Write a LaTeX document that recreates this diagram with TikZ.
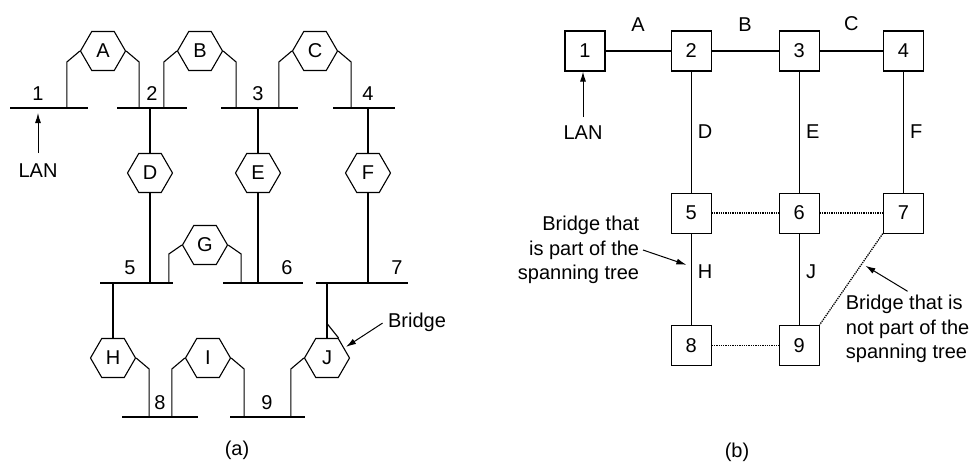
\documentclass[tikz,border=0pt]{standalone}
\usepackage{fontspec}
\setmainfont{Liberation Sans}
\usetikzlibrary{arrows.meta,positioning,shapes.geometric}

\begin{document}
\begin{tikzpicture}[
  x=1pt, y=-1pt,
  font=\fontsize{20}{24.5}\selectfont,
  line width=1.1pt,
  lan/.style={minimum width=#1, minimum height=0pt, inner sep=0pt, outer sep=0pt},
  hexa/.style={draw, regular polygon, regular polygon sides=6, minimum size=45pt, inner sep=0pt},
  lanbox/.style={draw, minimum size=40pt, inner sep=0pt},
  arr/.style={-{Latex[length=10pt,width=6pt]}, line width=1pt},
  spare/.style={densely dotted, line width=1.3pt}
]
\useasboundingbox (0,0) rectangle (976,463);

\node[lan=78pt] (lan1) at (49,108) {};
\node[lan=70pt] (lan2) at (152,108) {};
\node[lan=77pt] (lan3) at (259.5,108) {};
\node[lan=62pt] (lan4) at (364,108) {};
\node[lan=73pt] (lan5) at (136.5,283) {};
\node[lan=80pt] (lan6) at (263,283) {};
\node[lan=92pt] (lan7) at (362,283) {};
\node[lan=76pt] (lan8) at (160,417) {};
\node[lan=75pt] (lan9) at (267.5,417) {};
\draw (lan1.west) -- (lan1.east);
\draw (lan2.west) -- (lan2.east);
\draw (lan3.west) -- (lan3.east);
\draw (lan4.west) -- (lan4.east);
\draw (lan5.west) -- (lan5.east);
\draw (lan6.west) -- (lan6.east);
\draw (lan7.west) -- (lan7.east);
\draw (lan8.west) -- (lan8.east);
\draw (lan9.west) -- (lan9.east);

\node (n1) at (38,94) {1};
\node (n2) at (152,94) {2};
\node (n3) at (258,94) {3};
\node (n4) at (368,94) {4};
\node (n5) at (130,268) {5};
\node (n6) at (287,268) {6};
\node (n7) at (397,268) {7};
\node (n8) at (160,403) {8};
\node (n9) at (267,403) {9};

\node[hexa] (A) at (103,51) {A};
\node[hexa] (B) at (200,51) {B};
\node[hexa] (C) at (315,51) {C};
\node[hexa] (D) at (150,173) {D};
\node[hexa] (E) at (258,173) {E};
\node[hexa] (F) at (368,173) {F};
\node[hexa] (G) at (205,245) {G};
\node[hexa] (H) at (113,358) {H};
\node[hexa] (I) at (208,358) {I};
\node[hexa] (J) at (327,358) {J};

\draw (A.west) -- ++(-13,11) coordinate (p) -- (p |- lan1);
\draw (A.east) -- ++(13,11) coordinate (p) -- (p |- lan2);
\draw (B.west) -- ++(-13,11) coordinate (p) -- (p |- lan2);
\draw (B.east) -- ++(13,11) coordinate (p) -- (p |- lan3);
\draw (C.west) -- ++(-13,11) coordinate (p) -- (p |- lan3);
\draw (C.east) -- ++(13,11) coordinate (p) -- (p |- lan4);
\draw (D.north) -- (D.north |- lan2);
\draw (D.south) -- (D.south |- lan5);
\draw (E.north) -- (E.north |- lan3);
\draw (E.south) -- (E.south |- lan6);
\draw (F.north) -- (F.north |- lan4);
\draw (F.south) -- (F.south |- lan7);
\draw (G.west) -- ++(-13,9) coordinate (p) -- (p |- lan5);
\draw (G.east) -- ++(13,9) coordinate (p) -- (p |- lan6);
\draw (H.north) -- (H.north |- lan5);
\draw (H.east) -- ++(13,11) coordinate (p) -- (p |- lan8);
\draw (I.west) -- ++(-13,11) coordinate (p) -- (p |- lan8);
\draw (I.east) -- ++(13,11) coordinate (p) -- (p |- lan9);
\draw (J.north) -- (J.north |- lan7);
\draw (J.corner 1) -- ++(-12,-15) coordinate (p) -- (p |- lan6);
\draw (J.west) -- ++(-13,11) coordinate (p) -- (p |- lan9);

\node (lana) at (38,171) {LAN};
\draw[arr, shorten <=7pt, shorten >=5pt] (lana.north) -- (lana.north |- lan1);
\node (brlbl) at (417,322) {Bridge};
\draw[arr, shorten <=2pt, shorten >=2pt] (brlbl.west) -- (J.30);
\node (capa) at (237,450) {(a)};

\node[lanbox] (b1) at (585,51) {1};
\node[lanbox, right=65pt of b1] (b2) {2};
\node[lanbox, right=67pt of b2] (b3) {3};
\node[lanbox, right=63pt of b3] (b4) {4};
\node[lanbox, below=121pt of b2] (b5) {5};
\node[lanbox, below=121pt of b3] (b6) {6};
\node[lanbox, below=121pt of b4] (b7) {7};
\node[lanbox, below=91pt of b5] (b8) {8};
\node[lanbox, below=91pt of b6] (b9) {9};

\draw (b1) -- node[above=16pt] {A} (b2);
\draw (b2) -- node[above=16pt] {B} (b3);
\draw (b3) -- node[above=16pt] {C} (b4);
\draw (b2) -- node[right=3pt] {D} (b5);
\draw (b3) -- node[right=3pt] {E} (b6);
\draw (b4) -- node[right=3pt] {F} (b7);
\draw (b5) -- node[right=3pt, pos=0.42] (hlbl) {H} coordinate[pos=0.36] (hpt) (b8);
\draw (b6) -- node[right=3pt, pos=0.42] (jlbl) {J} (b9);
\draw[spare] (b5) -- (b6);
\draw[spare] (b6) -- (b7);
\draw[spare] (b8) -- (b9);
\draw[spare] (b7.south west) -- coordinate[pos=0.33] (dpt) (b9.north east);

\node (lanb) at (583,133) {LAN};
\draw[arr, shorten <=5pt] (lanb.north) -- (lanb.north |- b1.south);
\node[align=right, anchor=east] (intree) at (643,250) {Bridge that\\is part of the\\spanning tree};
\draw[arr, shorten >=5pt] (intree.east) -- (hpt);
\node[align=left, anchor=west] (offtree) at (842,329) {Bridge that is\\not part of the\\spanning tree};
\draw[arr, shorten >=4pt] (offtree.north) -- (dpt);
\node (capb) at (737,452) {(b)};
\end{tikzpicture}
\end{document}
